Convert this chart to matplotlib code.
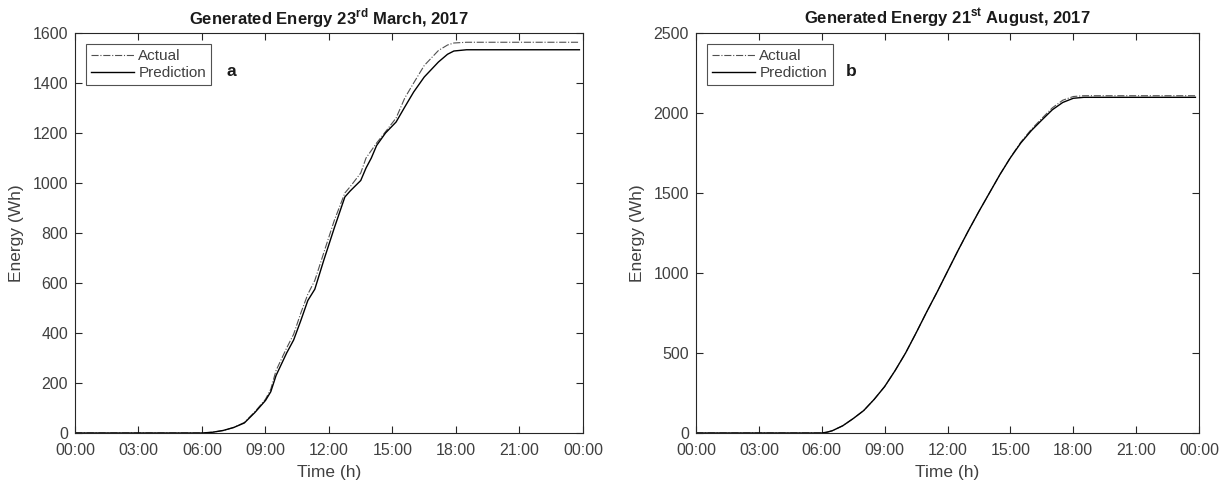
"""Cumulative generated energy: actual vs. predicted, two days."""

import matplotlib

matplotlib.use("Agg")
import matplotlib.pyplot as plt

# time of day in hours
time_a = [0, 3, 6, 6.5, 7, 7.5, 8, 8.5, 9, 9.25, 9.5, 10, 10.33, 10.67, 11, 11.33,
          11.75, 12.25, 12.75, 13, 13.5, 13.75, 14, 14.25, 14.67, 15.17, 15.58, 16,
          16.5, 17.17, 17.6, 17.9, 18.5, 21, 23.83]
actual_a = [0, 0, 0, 3, 10, 22, 42, 85, 135, 175, 250, 340, 395, 480, 555, 610,
            720, 850, 960, 985, 1040, 1100, 1130, 1160, 1205, 1260, 1340, 1400,
            1470, 1530, 1552, 1560, 1563, 1563, 1563]
pred_a = [0, 0, 0, 3, 10, 22, 40, 82, 130, 165, 230, 320, 372, 450, 530, 575,
          690, 820, 944, 968, 1010, 1060, 1100, 1150, 1200, 1244, 1304, 1364,
          1424, 1484, 1515, 1528, 1533, 1533, 1533]

time_b = [0, 3, 6, 6.25, 6.5, 7, 7.5, 8, 8.5, 9, 9.5, 10, 10.5, 11, 11.5, 12,
          12.5, 13, 13.5, 14, 14.5, 15, 15.5, 16, 16.5, 17, 17.5, 18, 18.5, 21,
          23.83]
actual_b = [0, 0, 0, 5, 14, 45, 90, 140, 210, 290, 390, 500, 625, 755, 880, 1010,
            1140, 1265, 1385, 1500, 1615, 1722, 1818, 1898, 1966, 2032, 2080,
            2103, 2108, 2108, 2108]
pred_b = [0, 0, 0, 5, 14, 45, 90, 140, 210, 290, 390, 500, 625, 755, 880, 1010,
          1140, 1265, 1385, 1500, 1615, 1720, 1813, 1890, 1956, 2020, 2066,
          2092, 2098, 2098, 2098]

tick_hours = [0, 3, 6, 9, 12, 15, 18, 21, 24]
tick_labels = ["00:00", "03:00", "06:00", "09:00", "12:00", "15:00", "18:00",
               "21:00", "00:00"]

plt.rcParams["font.family"] = ["Liberation Sans", "DejaVu Sans"]
plt.rcParams["mathtext.fontset"] = "custom"
plt.rcParams["mathtext.rm"] = "Liberation Sans"
plt.rcParams["mathtext.bf"] = "Liberation Sans:bold"

ink = "#262626"
text_gray = "#404040"

fig = plt.figure(figsize=(12.31, 4.84), dpi=100)
ax_a = fig.add_axes([0.0609, 0.1054, 0.4127, 0.8264])
ax_b = fig.add_axes([0.5654, 0.1054, 0.4086, 0.8264])

panels = [
    (ax_a, time_a, actual_a, pred_a, 1600, 200,
     r"Generated Energy 23$^{\mathbf{rd}}$ March, 2017", "a"),
    (ax_b, time_b, actual_b, pred_b, 2500, 500,
     r"Generated Energy 21$^{\mathbf{st}}$ August, 2017", "b"),
]

for ax, t, act, pred, ymax, ystep, title, tag in panels:
    ax.plot(t, act, linestyle="-.", color="#505050", linewidth=0.8, label="Actual")
    ax.plot(t, pred, linestyle="-", color="black", linewidth=1.0, label="Prediction")
    ax.set_xlim(0, 24)
    ax.set_ylim(0, ymax)
    ax.set_xticks(tick_hours)
    ax.set_xticklabels(tick_labels)
    ax.set_yticks(range(0, ymax + 1, ystep))
    ax.tick_params(direction="in", top=True, right=True, length=5, width=0.8,
                   colors=ink, labelcolor=text_gray, labelsize=11.5)
    ax.tick_params(axis="x", pad=7)
    ax.tick_params(axis="y", pad=5)
    for spine in ax.spines.values():
        spine.set_color(ink)
        spine.set_linewidth(0.8)
    ax.set_xlabel("Time (h)", fontsize=12.5, color=text_gray, labelpad=5)
    ax.set_ylabel("Energy (Wh)", fontsize=12.5, color=text_gray, labelpad=6)
    ax.set_title(title, fontsize=12, fontweight="bold", color="#1a1a1a", pad=6)
    leg = ax.legend(loc="upper left", fontsize=11, frameon=True, fancybox=False,
                    borderpad=0.35, handlelength=2.8, handletextpad=0.3,
                    labelspacing=0.2, borderaxespad=0.7)
    leg.get_frame().set_edgecolor(ink)
    leg.get_frame().set_linewidth(0.8)
    for txt in leg.get_texts():
        txt.set_color(text_gray)
    ax.text(0.298, 0.905, tag, transform=ax.transAxes, fontsize=12.5,
            fontweight="bold", color="#1a1a1a", va="center", ha="left")

fig.savefig("out.png", dpi=100)
